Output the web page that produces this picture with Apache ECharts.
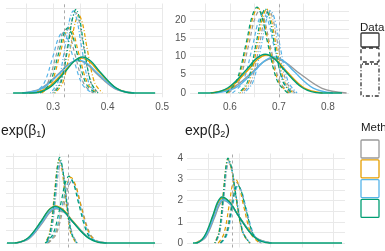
<!DOCTYPE html>
<html>
<head>
<meta charset="utf-8">
<script src="https://cdn.jsdelivr.net/npm/echarts@6/dist/echarts.min.js"></script>
<style>
    html, body { margin: 0; padding: 0; background: #fff; }
    #chart { width: 385px; height: 251px; }
</style>
</head>
<body>
<div id="chart"></div>
<script>
// method colours (grey, orange, blue, green)
var methodColors = ['#999999', '#E69F00', '#56B4E9', '#009E73'];

// true values (dashed vertical lines), one per panel
var truth = [0.3167, 0.6975, 1.089, 0.692];

// panel 1 (top left) : curves per method, [x, density]
var p1Solid = [
    [[.243,0],[.277,1.56],[.311,6.97],[.328,10.15],[.345,11.5],[.362,10.15],[.379,6.97],[.413,1.56],[.447,0]],
    [[.256,0],[.288,1.66],[.320,7.46],[.336,10.85],[.352,12.3],[.368,10.85],[.384,7.46],[.416,1.66],[.448,0]],
    [[.245,0],[.279,1.57],[.313,7.04],[.330,10.24],[.347,11.6],[.364,10.24],[.381,7.04],[.415,1.57],[.449,0]],
    [[.2266,0],[.261,0],[.292,1.72],[.323,7.70],[.3385,11.21],[.354,12.7],[.3695,11.21],[.385,7.70],[.416,1.72],[.447,0],[.4872,0]]
];
var p1Dashed = [
    [[.272,0],[.289,3.04],[.306,13.65],[.3145,19.86],[.323,22.5],[.3315,19.86],[.340,13.65],[.357,3.04],[.374,0]],
    [[.279,0],[.296,3.11],[.313,13.95],[.3215,20.3],[.330,23],[.3385,20.3],[.347,13.95],[.364,3.11],[.381,0]],
    [[.264,0],[.282,2.91],[.300,13.04],[.309,18.97],[.318,21.5],[.327,18.97],[.336,13.04],[.354,2.91],[.372,0]],
    [[.276,0],[.293,3.11],[.310,13.95],[.3185,20.3],[.327,23],[.3355,20.3],[.344,13.95],[.361,3.11],[.378,0]]
];
var p1DotDash = [
    [[.299,0],[.313,3.86],[.327,17.29],[.334,25.15],[.341,28.5],[.348,25.15],[.355,17.29],[.369,3.86],[.383,0]],
    [[.3035,0],[.318,3.72],[.3325,16.68],[.3398,24.27],[.347,27.5],[.3543,24.27],[.3615,16.68],[.376,3.72],[.3905,0]],
    [[.295,0],[.309,3.92],[.323,17.59],[.330,25.59],[.337,29],[.344,25.59],[.351,17.59],[.365,3.92],[.379,0]],
    [[.3015,0],[.315,3.99],[.3285,17.89],[.3353,26.03],[.342,29.5],[.3488,26.03],[.3555,17.89],[.369,3.99],[.3825,0]]
];

// panel 2 (top right)
var p2Solid = [
    [[.562,0],[.604,1.29],[.646,5.76],[.667,8.38],[.688,9.5],[.713,8.38],[.738,5.76],[.788,1.29],[.838,0]],
    [[.561,0],[.599,1.41],[.637,6.31],[.656,9.18],[.675,10.4],[.694,9.18],[.713,6.31],[.751,1.41],[.789,0]],
    [[.570,0],[.610,1.34],[.650,6.00],[.670,8.74],[.690,9.9],[.710,8.74],[.730,6.00],[.770,1.34],[.810,0]],
    [[.5347,0],[.558,0],[.596,1.43],[.634,6.43],[.653,9.35],[.672,10.6],[.691,9.35],[.710,6.43],[.748,1.43],[.786,0],[.8286,0]]
];
var p2Dashed = [
    [[.597,0],[.618,3.04],[.639,13.65],[.6495,19.86],[.660,22.5],[.6705,19.86],[.681,13.65],[.702,3.04],[.723,0]],
    [[.594,0],[.615,3.15],[.636,14.13],[.6465,20.56],[.657,23.3],[.6675,20.56],[.678,14.13],[.699,3.15],[.720,0]],
    [[.605,0],[.626,2.98],[.647,13.34],[.6575,19.42],[.668,22],[.6785,19.42],[.689,13.34],[.710,2.98],[.731,0]],
    [[.592,0],[.613,3.18],[.634,14.25],[.6445,20.74],[.655,23.5],[.6655,20.74],[.676,14.25],[.697,3.18],[.718,0]]
];
var p2DotDash = [
    [[.625,0],[.643,3.08],[.661,13.83],[.670,20.12],[.679,22.8],[.688,20.12],[.697,13.83],[.715,3.08],[.733,0]],
    [[.621,0],[.639,3.11],[.657,13.95],[.666,20.3],[.675,23],[.684,20.3],[.693,13.95],[.711,3.11],[.729,0]],
    [[.629,0],[.647,3.04],[.665,13.65],[.674,19.86],[.683,22.5],[.692,19.86],[.701,13.65],[.719,3.04],[.737,0]],
    [[.618,0],[.636,3.11],[.654,13.95],[.663,20.3],[.672,23],[.681,20.3],[.690,13.95],[.708,3.11],[.726,0]]
];

// panel 3 (bottom left, exp(b1))
var p3Solid = [
    [[.53,0],[.675,.187],[.82,.837],[.8925,1.218],[.965,1.38],[1.055,1.218],[1.145,.837],[1.325,.187],[1.505,0]],
    [[.52,0],[.665,.203],[.81,.91],[.8825,1.324],[.955,1.5],[1.045,1.324],[1.135,.91],[1.315,.203],[1.495,0]],
    [[.525,0],[.67,.192],[.815,.861],[.8875,1.253],[.96,1.42],[1.05,1.253],[1.14,.861],[1.32,.192],[1.50,0]],
    [[.4357,0],[.515,0],[.66,.20],[.805,.898],[.8775,1.306],[.95,1.48],[1.04,1.306],[1.13,.898],[1.31,.20],[1.49,0],[2.0214,0]]
];
var p3Dashed = [
    [[.875,0],[.96,.338],[1.045,1.516],[1.0875,2.206],[1.13,2.5],[1.18,2.206],[1.23,1.516],[1.33,.338],[1.43,0]],
    [[.865,0],[.95,.359],[1.035,1.607],[1.0775,2.339],[1.12,2.65],[1.17,2.339],[1.22,1.607],[1.32,.359],[1.42,0]],
    [[.86,0],[.945,.345],[1.03,1.547],[1.0725,2.25],[1.115,2.55],[1.165,2.25],[1.215,1.547],[1.315,.345],[1.415,0]],
    [[.845,0],[.93,.365],[1.015,1.638],[1.0575,2.383],[1.1,2.7],[1.15,2.383],[1.2,1.638],[1.3,.365],[1.4,0]]
];
var p3DotDash = [
    [[.86,0],[.91,.433],[.96,1.941],[.985,2.824],[1.01,3.2],[1.04,2.824],[1.07,1.941],[1.13,.433],[1.19,0]],
    [[.845,0],[.895,.453],[.945,2.032],[.97,2.956],[.995,3.35],[1.025,2.956],[1.055,2.032],[1.115,.453],[1.175,0]],
    [[.855,0],[.905,.446],[.955,2.001],[.98,2.912],[1.005,3.3],[1.035,2.912],[1.065,2.001],[1.125,.446],[1.185,0]],
    [[.85,0],[.90,.467],[.95,2.092],[.975,3.045],[1.0,3.45],[1.03,3.045],[1.06,2.092],[1.12,.467],[1.18,0]]
];

// panel 4 (bottom right, exp(b2))
var p4Solid = [
    [[.409,0],[.481,.271],[.553,1.213],[.589,1.765],[.625,2.0],[.689,1.765],[.753,1.213],[.881,.271],[1.009,0]],
    [[.399,0],[.471,.287],[.543,1.286],[.579,1.871],[.615,2.12],[.679,1.871],[.743,1.286],[.871,.287],[.999,0]],
    [[.404,0],[.476,.277],[.548,1.243],[.584,1.809],[.62,2.05],[.684,1.809],[.748,1.243],[.876,.277],[1.004,0]],
    [[.38,0],[.396,0],[.468,.294],[.54,1.316],[.576,1.915],[.612,2.17],[.676,1.915],[.74,1.316],[.868,.294],[.996,0],[1.572,0]]
];
var p4Dashed = [
    [[.595,0],[.64,.386],[.685,1.729],[.7075,2.515],[.73,2.85],[.7625,2.515],[.795,1.729],[.86,.386],[.925,0]],
    [[.581,0],[.626,.413],[.671,1.85],[.6935,2.692],[.716,3.05],[.7485,2.692],[.781,1.85],[.846,.413],[.911,0]],
    [[.605,0],[.65,.365],[.695,1.638],[.7175,2.383],[.74,2.7],[.7725,2.383],[.805,1.638],[.87,.365],[.935,0]],
    [[.60,0],[.645,.372],[.69,1.668],[.7125,2.427],[.735,2.75],[.7675,2.427],[.80,1.668],[.865,.372],[.93,0]]
];
var p4DotDash = [
    [[.56,0],[.595,.514],[.63,2.305],[.6475,3.354],[.665,3.8],[.694,3.354],[.723,2.305],[.781,.514],[.839,0]],
    [[.553,0],[.588,.534],[.623,2.396],[.6405,3.486],[.658,3.95],[.687,3.486],[.716,2.396],[.774,.534],[.832,0]],
    [[.557,0],[.592,.528],[.627,2.365],[.6445,3.442],[.662,3.9],[.691,3.442],[.72,2.365],[.778,.528],[.836,0]],
    [[.555,0],[.59,.541],[.625,2.426],[.6425,3.53],[.66,4.0],[.689,3.53],[.718,2.426],[.776,.541],[.834,0]]
];

// grid lines and tick labels per panel
var p1XGrid = [.25, .3, .35, .4, .45, .5], p1XLabels = [.3, .4, .5];
var p1YGrid = [0, 5, 10, 15, 20, 25, 30];
var p2XGrid = [.55, .6, .65, .7, .75, .8], p2XLabels = [.6, .7, .8];
var p2YGrid = [0, 2.5, 5, 7.5, 10, 12.5, 15, 17.5, 20, 22.5], p2YLabels = [0, 5, 10, 15, 20];
var p3XGrid = [.5, .75, 1, 1.25, 1.5, 1.75, 2];
var p3YGrid = [0, .5, 1, 1.5, 2, 2.5, 3, 3.5];
var p4XGrid = [.5, .75, 1, 1.25, 1.5];
var p4YGrid = [0, .5, 1, 1.5, 2, 2.5, 3, 3.5, 4], p4YLabels = [0, 1, 2, 3, 4];

var fontFam = '"Liberation Sans", Arial, sans-serif';
var gridLine = { color: '#e9e9e9', width: 1 };

var panels = [
    { grid: { left: 6, top: 3.5, width: 156.4, height: 93.8 }, x: [.2136, .5005], y: [-1.52, 31.59],
      xg: p1XGrid, xl: p1XLabels, yg: p1YGrid, yl: null, curves: [p1Solid, p1Dashed, p1DotDash] },
    { grid: { left: 190, top: 3.5, width: 159, height: 93.8 }, x: [.5184, .843], y: [-1.18, 24.52],
      xg: p2XGrid, xl: p2XLabels, yg: p2YGrid, yl: p2YLabels, curves: [p2Solid, p2Dashed, p2DotDash] },
    { grid: { left: 6, top: 153.5, width: 156, height: 94 }, x: [.425, 2.0965], y: [-.18, 3.61],
      xg: p3XGrid, xl: null, yg: p3YGrid, yl: null, curves: [p3Solid, p3Dashed, p3DotDash] },
    { grid: { left: 187, top: 153.5, width: 158, height: 94 }, x: [.332, 1.596], y: [-.21, 4.22],
      xg: p4XGrid, xl: null, yg: p4YGrid, yl: p4YLabels, curves: [p4Solid, p4Dashed, p4DotDash] }
];

var dashTypes = ['solid', [4, 3], [1, 2, 4, 2]];
var lineWidths = [1.4, 1.2, 1.2];

var grids = [], xAxes = [], yAxes = [], series = [];
panels.forEach(function (p, i) {
    grids.push(Object.assign({ containLabel: false, outerBoundsMode: 'none' }, p.grid));
    xAxes.push({
        type: 'value', gridIndex: i, min: p.x[0], max: p.x[1],
        axisLine: { show: false },
        axisTick: { show: false, customValues: p.xg },
        splitLine: { show: true, lineStyle: gridLine },
        axisLabel: { show: !!p.xl, customValues: p.xl || [], color: '#555', fontSize: 10,
                     fontFamily: fontFam, margin: 5 }
    });
    yAxes.push({
        type: 'value', gridIndex: i, min: p.y[0], max: p.y[1],
        axisLine: { show: false },
        axisTick: { show: false, customValues: p.yg },
        splitLine: { show: true, lineStyle: gridLine },
        axisLabel: { show: !!p.yl, customValues: p.yl || [], color: '#555', fontSize: 10,
                     fontFamily: fontFam, margin: 4 }
    });
    //每个方法画三种数据的曲线
    for (var m = 0; m < 4; m++) {
        for (var t = 0; t < 3; t++) {
            var s = {
                type: 'line', xAxisIndex: i, yAxisIndex: i,
                data: p.curves[t][m], showSymbol: false, smooth: 0.35, silent: true,
                lineStyle: { color: methodColors[m], width: lineWidths[t], type: dashTypes[t] }
            };
            if (m === 0 && t === 0) {
                s.markLine = {
                    silent: true, symbol: 'none', label: { show: false },
                    lineStyle: { color: '#a0a0a0', width: 0.9, type: [3, 3] },
                    data: [{ xAxis: truth[i] }]
                };
            }
            series.push(s);
        }
    }
});

var titleStyle = { fontSize: 14, fontWeight: 'normal', color: '#1a1a1a', fontFamily: fontFam,
                   rich: { s: { fontSize: 9, fontFamily: fontFam, color: '#1a1a1a', padding: [7, 0, 0, 0] } } };

var graphics = [
    { type: 'text', style: { x: 360, y: 28, text: 'Data', font: '11.5px ' + fontFam, fill: '#1a1a1a', verticalAlign: 'middle' } },
    { type: 'text', style: { x: 361, y: 128, text: 'Method', font: '11.5px ' + fontFam, fill: '#1a1a1a', verticalAlign: 'middle' } }
];
// Data legend keys
[[33, 14, 'solid'], [48, 14, [4, 3]], [64, 32, [1, 2, 4, 2]]].forEach(function (k) {
    graphics.push({ type: 'rect', shape: { x: 361, y: k[0], width: 18, height: k[1], r: 1 },
        style: { fill: '#fff', stroke: '#333', lineWidth: 1.3, lineDash: k[2] === 'solid' ? null : k[2] } });
});
// Method legend keys
methodColors.forEach(function (c, j) {
    graphics.push({ type: 'rect', shape: { x: 361, y: 140 + j * 19.8, width: 18, height: 18, r: 1 },
        style: { fill: '#fff', stroke: c, lineWidth: 1.3 } });
});

var myChart = echarts.init(document.getElementById('chart'));
myChart.setOption({
    animation: false,
    title: [
        { text: 'exp(β{s|1})', left: 1, top: 123, padding: 0, textStyle: titleStyle },
        { text: 'exp(β{s|2})', left: 185, top: 123, padding: 0, textStyle: titleStyle }
    ],
    grid: grids,
    xAxis: xAxes,
    yAxis: yAxes,
    series: series,
    graphic: graphics
});
</script>
</body>
</html>
